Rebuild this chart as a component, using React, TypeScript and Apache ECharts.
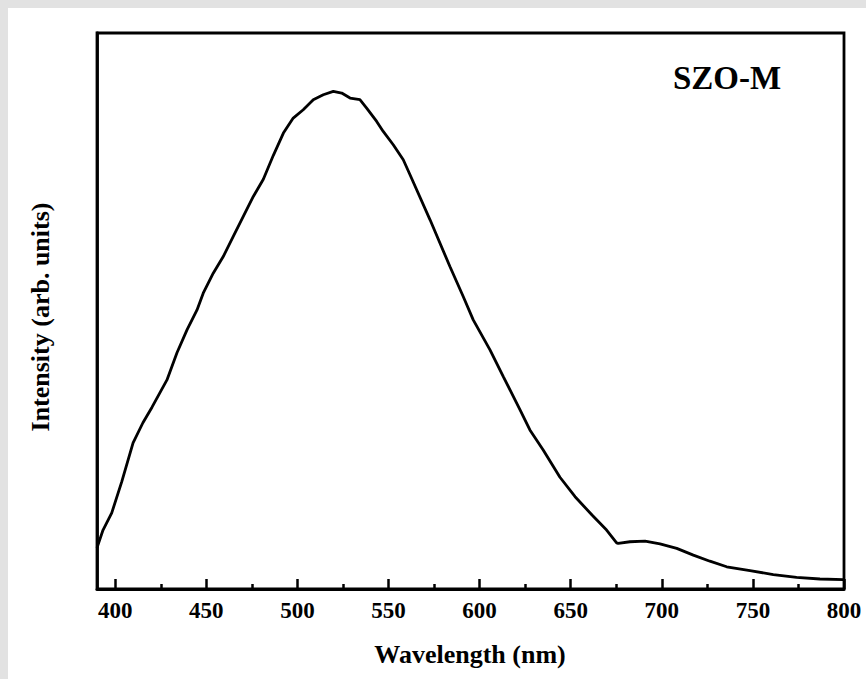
import React, { useEffect, useRef } from "react";
import * as echarts from "echarts";

const wavelength = [
  390.0, 393.3, 398.1, 403.6, 409.8, 415.2, 420.2, 428.4, 433.9, 439.4, 444.9, 448.3,
  453.8, 459.3, 464.8, 470.3, 475.8, 481.3, 486.8, 492.3, 497.7, 503.2, 508.7, 514.2,
  519.7, 524.3, 528.9, 534.3, 538.0, 543.5, 547.1, 552.6, 558.1, 561.8, 572.8, 583.7,
  591.0, 596.5, 605.7, 613.0, 622.2, 627.6, 634.9, 644.1, 652.4, 661.7, 669.7, 675.2,
  676.1, 682.5, 690.8, 699.0, 708.2, 717.3, 726.4, 735.6, 748.4, 761.2, 774.0, 786.8,
  799.6,
];
const intensity = [
  74, 106, 137, 193, 263, 299, 327, 376, 425, 466, 502, 532,
  568, 598, 634, 670, 706, 737, 780, 820, 847, 862, 880, 889,
  895, 892, 883, 880, 865, 841, 823, 799, 772, 745, 664, 580,
  526, 484, 430, 382, 322, 286, 250, 201, 166, 133, 106, 83,
  82, 85, 86, 81, 73, 61, 50, 40, 33, 26, 21, 18,
  17,
];
const majorTicks = [400, 450, 500, 550, 600, 650, 700, 750, 800];
const minorTicks = [425, 475, 525, 575, 625, 675, 725, 775];
const sampleLabel = "SZO-M";
const xTitle = "Wavelength (nm)";
const yTitle = "Intensity (arb. units)";

const FONT = "Liberation Serif, Times New Roman, serif";

export default function App() {
  const ref = useRef<HTMLDivElement>(null);
  useEffect(() => {
    if (!ref.current) return;
    const chart = echarts.init(ref.current, null, { renderer: "svg" });
    const data = wavelength.map((w, i) => [w, intensity[i]]);
    chart.setOption({
      animation: false,
      backgroundColor: "#ffffff",
      grid: {
        left: 89,
        top: 25,
        right: 22,
        bottom: 90,
        show: true,
        borderColor: "#000",
        borderWidth: 2.8,
        backgroundColor: "transparent",
      },
      xAxis: [
        {
          type: "value",
          position: "bottom",
          min: 390,
          max: 800,
          axisLine: { show: true, lineStyle: { color: "#000", width: 2.8 } },
          axisTick: {
            show: true,
            inside: true,
            length: 10,
            customValues: majorTicks,
            lineStyle: { color: "#000", width: 2.5 },
          },
          axisLabel: {
            show: true,
            customValues: majorTicks,
            margin: 10,
            color: "#000",
            fontFamily: FONT,
            fontWeight: "bold",
            fontSize: 23,
          },
          splitLine: { show: false },
        },
        {
          type: "value",
          position: "bottom",
          min: 390,
          max: 800,
          axisLine: { show: false },
          axisTick: {
            show: true,
            inside: true,
            length: 5,
            customValues: minorTicks,
            lineStyle: { color: "#000", width: 2.5 },
          },
          axisLabel: { show: false },
          splitLine: { show: false },
        },
      ],
      yAxis: {
        type: "value",
        min: 0,
        max: 1000,
        axisLine: { show: true, lineStyle: { color: "#000", width: 2.8 } },
        axisTick: { show: false },
        axisLabel: { show: false },
        splitLine: { show: false },
      },
      graphic: [
        {
          type: "text",
          x: 719,
          y: 70,
          style: {
            text: sampleLabel,
            fill: "#000",
            font: `bold 33px ${FONT}`,
            textAlign: "center",
            textVerticalAlign: "middle",
          },
        },
        {
          type: "text",
          x: 462,
          y: 646,
          style: {
            text: xTitle,
            fill: "#000",
            font: `bold 26px ${FONT}`,
            textAlign: "center",
            textVerticalAlign: "middle",
          },
        },
        {
          type: "text",
          x: 32,
          y: 309,
          rotation: Math.PI / 2,
          style: {
            text: yTitle,
            fill: "#000",
            font: `bold 26px ${FONT}`,
            textAlign: "center",
            textVerticalAlign: "middle",
          },
        },
      ],
      series: [
        {
          type: "line",
          xAxisIndex: 0,
          data,
          showSymbol: false,
          symbol: "none",
          smooth: false,
          lineStyle: { color: "#000", width: 2.8 },
          clip: true,
        },
      ],
    });
    return () => chart.dispose();
  }, []);
  return (
    <div
      style={{
        width: 866,
        height: 679,
        background: "#e2e2e2",
        paddingLeft: 8,
        paddingTop: 8,
        boxSizing: "border-box",
        overflow: "hidden",
      }}
    >
      <style>{"body{margin:0}"}</style>
      <div ref={ref} style={{ width: 858, height: 671, background: "#fff" }} />
    </div>
  );
}
